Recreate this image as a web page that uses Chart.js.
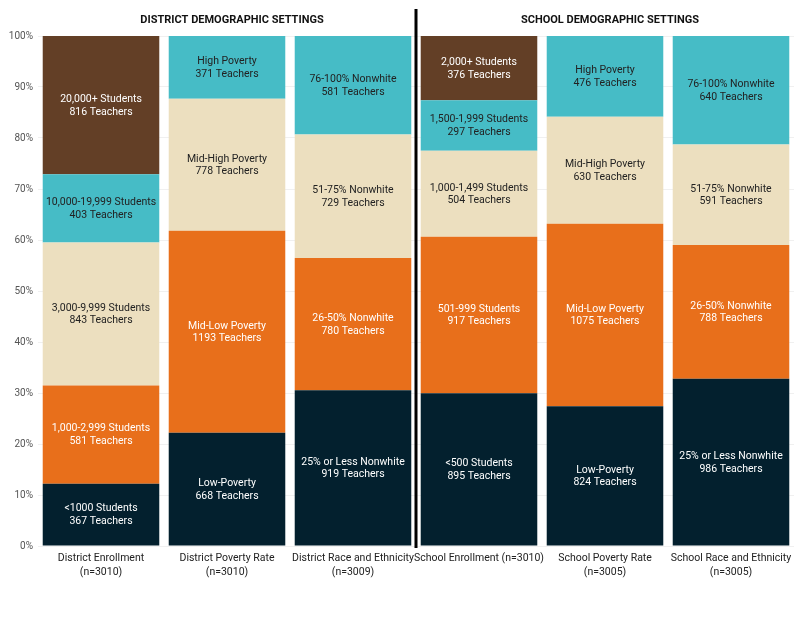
<!DOCTYPE html>
<html>
<head>
<meta charset="utf-8">
<script src="https://cdn.jsdelivr.net/npm/chart.js@4/dist/chart.umd.min.js"></script>
<style>
  html, body { margin: 0; padding: 0; background: #fff; }
  #wrap { width: 800px; height: 643px; }
</style>
</head>
<body>
<div id="wrap"><canvas id="myChart" width="800" height="643"></canvas></div>
<script>
// Bars (x axis categories)
const categories = [
    ['District Enrollment', '(n=3010)'],
    ['District Poverty Rate', '(n=3010)'],
    ['District Race and Ethnicity', '(n=3009)'],
    'School Enrollment (n=3010)',
    ['School Poverty Rate', '(n=3005)'],
    ['School Race and Ethnicity', '(n=3005)']
];

const groupTitles = ['DISTRICT DEMOGRAPHIC SETTINGS', 'SCHOOL DEMOGRAPHIC SETTINGS'];

// Segments, bottom to top
const level1Names = ['<1000 Students', 'Low-Poverty', '25% or Less Nonwhite', '<500 Students', 'Low-Poverty', '25% or Less Nonwhite'];
const level1Teachers = [367, 668, 919, 895, 824, 986];

const level2Names = ['1,000-2,999 Students', 'Mid-Low Poverty', '26-50% Nonwhite', '501-999 Students', 'Mid-Low Poverty', '26-50% Nonwhite'];
const level2Teachers = [581, 1193, 780, 917, 1075, 788];

const level3Names = ['3,000-9,999 Students', 'Mid-High Poverty', '51-75% Nonwhite', '1,000-1,499 Students', 'Mid-High Poverty', '51-75% Nonwhite'];
const level3Teachers = [843, 778, 729, 504, 630, 591];

const level4Names = ['10,000-19,999 Students', 'High Poverty', '76-100% Nonwhite', '1,500-1,999 Students', 'High Poverty', '76-100% Nonwhite'];
const level4Teachers = [403, 371, 581, 297, 476, 640];

const level5Names = ['20,000+ Students', null, null, '2,000+ Students', null, null];
const level5Teachers = [816, null, null, 376, null, null];

const yTicks = [0, 10, 20, 30, 40, 50, 60, 70, 80, 90, 100];

const levels = [
    { names: level1Names, teachers: level1Teachers, color: '#03202e', text: '#ffffff' },
    { names: level2Names, teachers: level2Teachers, color: '#e86f1b', text: '#ffffff' },
    { names: level3Names, teachers: level3Teachers, color: '#ecdfbf', text: '#222222' },
    { names: level4Names, teachers: level4Teachers, color: '#46bcc6', text: '#222222' },
    { names: level5Names, teachers: level5Teachers, color: '#633f26', text: '#ffffff' }
];

const FONT = 'Roboto, sans-serif';

// totals per bar, so every bar fills 100%
const totals = categories.map((_, i) =>
    levels.reduce((sum, lv) => sum + (lv.teachers[i] || 0), 0));

const datasets = levels.map(lv => ({
    data: lv.teachers.map((t, i) => t == null ? null : t / totals[i] * 100),
    names: lv.names,
    teachers: lv.teachers,
    textColor: lv.text,
    backgroundColor: lv.color,
    borderWidth: 0,
    barPercentage: 0.925,
    categoryPercentage: 1
}));

// draw the two-line labels inside each segment
const segmentLabels = {
    id: 'segmentLabels',
    afterDatasetsDraw(chart) {
        const ctx = chart.ctx;
        ctx.save();
        ctx.font = '10.5px ' + FONT;
        ctx.textAlign = 'center';
        ctx.textBaseline = 'middle';
        chart.data.datasets.forEach((ds, di) => {
            const meta = chart.getDatasetMeta(di);
            meta.data.forEach((bar, i) => {
                if (ds.data[i] == null) return;
                const cy = (bar.y + bar.base) / 2;
                ctx.fillStyle = ds.textColor;
                ctx.fillText(ds.names[i], bar.x, cy - 5.8);
                ctx.fillText(ds.teachers[i] + ' Teachers', bar.x, cy + 6.8);
            });
        });
        ctx.restore();
    }
};

// group titles and the divider between district and school bars
const groupDecor = {
    id: 'groupDecor',
    afterDraw(chart) {
        const ctx = chart.ctx;
        const x = chart.scales.x;
        const area = chart.chartArea;
        ctx.save();
        const divX = (x.getPixelForValue(2) + x.getPixelForValue(3)) / 2;
        ctx.fillStyle = '#000';
        ctx.fillRect(divX - 1.5, 9, 3, area.bottom + 2 - 9);

        ctx.font = 'bold 11px ' + FONT;
        ctx.fillStyle = '#111';
        ctx.textAlign = 'center';
        ctx.textBaseline = 'middle';
        ctx.fillText(groupTitles[0], x.getPixelForValue(1) + 5, 20);
        ctx.fillText(groupTitles[1], x.getPixelForValue(4) + 5, 20);
        ctx.restore();
    }
};

const ctx = document.getElementById('myChart').getContext('2d');
const myChart = new Chart(ctx, {
    type: 'bar',
    data: {
        labels: categories,
        datasets: datasets
    },
    options: {
        responsive: false,
        animation: false,
        layout: { padding: { top: 36, right: 6, left: 0, bottom: 0 } },
        plugins: {
            legend: { display: false },
            tooltip: { enabled: false }
        },
        scales: {
            x: {
                stacked: true,
                grid: { display: false, drawTicks: false },
                border: { display: false },
                ticks: {
                    color: '#222',
                    font: { family: FONT, size: 10.5, lineHeight: 1.3 },
                    padding: 6,
                    maxRotation: 0,
                    autoSkip: false
                },
                afterFit(scale) { scale.height = 97; }
            },
            y: {
                stacked: true,
                min: 0,
                max: 100,
                afterBuildTicks(scale) { scale.ticks = yTicks.map(v => ({ value: v })); },
                grid: { color: '#f0f0f0', drawTicks: false },
                border: { display: false },
                ticks: {
                    color: '#555',
                    font: { family: FONT, size: 10 },
                    padding: 5,
                    callback: v => v + '%'
                },
                afterFit(scale) { scale.width = 38; }
            }
        }
    },
    plugins: [segmentLabels, groupDecor]
});
</script>
</body>
</html>
